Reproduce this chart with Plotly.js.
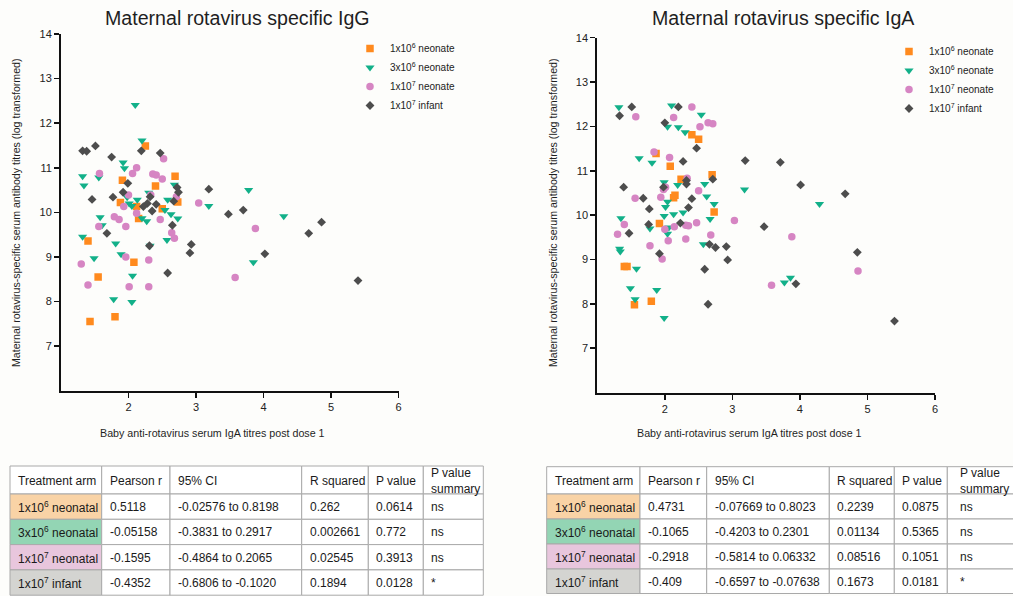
<!DOCTYPE html>
<html><head><meta charset="utf-8">
<script src="https://cdn.plot.ly/plotly-3.0.1.min.js"></script>
<style>html,body{margin:0;padding:0;background:#fdfdfb;}#chart{width:1013px;height:596px;}</style>
</head><body><div id="chart"></div>
<script>
// ---------- data ----------
const groupNames = ["1x10<sup>6</sup> neonate","3x10<sup>6</sup> neonate","1x10<sup>7</sup> neonate","1x10<sup>7</sup> infant"];
const groupColors = ["#FF8A1E","#12B089","#D685C3","#4D4D4D"];
const groupSymbols = ["square","triangle-down","circle","diamond"];

// IgG panel
const iggN6x = [2.25,1.91,2.69,2.40,1.88,2.12,2.50,2.73,2.15,1.40,2.08,1.55,1.80,1.43];
const iggN6y = [11.49,10.72,10.81,10.59,10.22,10.13,10.08,10.23,9.86,9.36,8.88,8.55,7.66,7.55];
const iggN3x = [2.10,2.20,1.92,1.94,1.32,1.56,1.34,2.68,2.30,1.98,2.13,2.58,2.01,2.05,3.19,2.54,2.63,2.73,1.58,2.20,2.27,1.61,1.32,2.57,1.81,1.89,1.49,2.32,2.06,1.78,2.05,3.78,4.30,3.85];
const iggN3y = [12.41,11.61,11.12,10.99,10.81,10.78,10.60,10.62,10.44,10.34,10.28,10.28,10.20,10.14,10.14,10.05,9.96,9.86,9.89,9.87,9.80,9.71,9.45,9.38,9.30,9.06,8.97,9.25,8.58,8.05,7.99,10.50,9.91,8.88];
const iggN7x = [2.52,2.12,1.57,2.06,2.36,2.41,2.50,2.00,2.33,1.93,2.71,3.04,2.12,1.79,1.86,1.56,1.96,2.47,2.64,2.68,1.96,2.30,1.30,1.40,2.01,2.30,3.88,3.58];
const iggN7y = [11.20,11.00,10.87,10.87,10.86,10.84,10.75,10.39,10.39,10.13,10.35,10.21,9.98,9.90,9.84,9.68,9.68,9.84,9.54,9.42,9.00,8.93,8.84,8.37,8.33,8.33,9.64,8.54];
const iggI7x = [1.32,1.38,1.51,2.19,2.47,1.75,1.99,1.92,2.72,2.74,3.19,2.32,1.46,1.77,2.67,2.28,2.41,2.22,2.35,2.65,1.68,2.31,2.93,2.91,2.58,3.48,3.70,4.86,4.67,4.02,5.40];
const iggI7y = [11.38,11.37,11.49,11.38,11.33,11.24,10.65,10.45,10.56,10.45,10.52,10.35,10.29,10.34,10.25,10.20,10.18,10.13,10.03,9.71,9.53,9.25,9.28,9.09,8.64,9.96,10.05,9.78,9.53,9.07,8.47];

// IgA panel
const igaN6x = [2.40,2.50,1.87,2.08,2.70,2.24,2.15,2.13,2.73,1.92,1.40,1.44,1.80,1.55];
const igaN6y = [11.81,11.71,11.39,11.10,10.91,10.81,10.45,10.39,10.07,9.81,8.84,8.84,8.06,7.98];
const igaN3x = [1.32,2.10,2.54,2.04,2.20,2.30,1.62,1.81,1.99,2.19,2.59,2.62,2.73,2.04,2.01,1.99,2.13,2.27,1.35,1.78,2.06,2.04,2.67,2.57,1.33,1.34,1.58,1.49,1.88,1.56,1.99,3.18,4.29,3.77,3.86];
const igaN3y = [12.43,12.47,12.26,11.99,11.98,11.87,11.28,11.18,10.74,10.68,10.70,10.42,10.25,10.30,10.18,9.98,10.02,10.06,9.93,9.70,9.72,9.58,9.91,9.34,9.24,9.18,8.79,8.35,8.31,8.10,7.68,10.58,10.25,8.48,8.59];
const igaN7x = [2.40,1.57,2.13,2.52,2.64,2.71,1.84,2.07,2.33,1.98,2.01,2.50,1.56,1.94,1.40,1.30,2.00,2.14,2.31,2.35,2.47,2.05,2.31,2.68,1.78,1.96,3.03,3.88,3.58,4.86];
const igaN7y = [12.44,12.22,12.20,11.99,12.08,12.06,11.42,11.30,10.83,10.58,10.63,10.55,10.38,10.40,9.79,9.57,9.68,9.74,9.77,9.76,9.83,9.42,9.46,9.55,9.31,9.01,9.88,9.51,8.42,8.74];
const igaI7x = [1.51,1.33,2.20,2.00,2.47,2.27,3.19,2.71,2.32,2.32,1.98,1.39,1.68,2.40,1.77,2.35,1.76,2.23,1.47,2.66,2.75,2.91,2.93,1.92,2.59,2.64,3.71,4.01,4.67,3.47,4.85,3.94,5.40];
const igaI7y = [12.44,12.24,12.44,12.08,11.51,11.21,11.23,10.81,10.78,10.70,10.63,10.63,10.38,10.37,10.14,10.17,9.79,9.82,9.59,9.34,9.27,9.29,8.99,9.13,8.78,7.99,11.19,10.68,10.48,9.74,9.16,8.45,7.61];

// axis ticks
const xTicks = [2,3,4,5,6];
const yTicks = [7,8,9,10,11,12,13,14];

// tables
const tblHeader = ["Treatment arm","Pearson r","95% CI","R squared","P value","P value<br>summary"];
const tblArms = ["1x10<sup>6</sup> neonatal","3x10<sup>6</sup> neonatal","1x10<sup>7</sup> neonatal","1x10<sup>7</sup> infant"];
const tblArmColors = ["#F9D3A6","#93D5B4","#E8C6DD","#D4D4D1"];
const iggPearson = ["0.5118","-0.05158","-0.1595","-0.4352"];
const iggCI = ["-0.02576 to 0.8198","-0.3831 to 0.2917","-0.4864 to 0.2065","-0.6806 to -0.1020"];
const iggR2 = ["0.262","0.002661","0.02545","0.1894"];
const iggP = ["0.0614","0.772","0.3913","0.0128"];
const iggSummary = ["ns","ns","ns","*"];
const igaPearson = ["0.4731","-0.1065","-0.2918","-0.409"];
const igaCI = ["-0.07669 to 0.8023","-0.4203 to 0.2301","-0.5814 to 0.06332","-0.6597 to -0.07638"];
const igaR2 = ["0.2239","0.01134","0.08516","0.1673"];
const igaP = ["0.0875","0.5365","0.1051","0.0181"];
const igaSummary = ["ns","ns","ns","*"];

// ---------- build ----------
const W = 1013, H = 596;
const FONT = "Liberation Sans, Arial, Helvetica, sans-serif";
const px = v => v / W, py = v => 1 - v / H;
const sizes = [7.5, 8, 7.5, 6.8];

const iggSets = [[iggN6x,iggN6y],[iggN3x,iggN3y],[iggN7x,iggN7y],[iggI7x,iggI7y]];
const igaSets = [[igaN6x,igaN6y],[igaN3x,igaN3y],[igaN7x,igaN7y],[igaI7x,igaI7y]];
const traces = [];
iggSets.forEach((s,i) => traces.push({
  type:"scatter", mode:"markers", x:s[0], y:s[1], xaxis:"x", yaxis:"y",
  name: groupNames[i], legend:"legend",
  marker:{symbol:groupSymbols[i], color:groupColors[i], size:sizes[i], line:{width:0}}
}));
igaSets.forEach((s,i) => traces.push({
  type:"scatter", mode:"markers", x:s[0], y:s[1], xaxis:"x2", yaxis:"y2",
  name: groupNames[i], legend:"legend2",
  marker:{symbol:groupSymbols[i], color:groupColors[i], size:sizes[i], line:{width:0}}
}));

const ann = (text, x, y, size, extra) => Object.assign({text, x:px(x), y:py(y), xref:"paper", yref:"paper",
  showarrow:false, xanchor:"center", yanchor:"middle", font:{family:FONT, size, color:"#1f1f1f"}}, extra || {});

const shapes = [];
const annotations = [
  ann("Maternal rotavirus specific IgG", 237, 18, 19.6),
  ann("Maternal rotavirus specific IgA", 783, 18, 19.6),
  ann("Baby anti-rotavirus serum IgA titres post dose 1", 212.5, 432.5, 10.7),
  ann("Baby anti-rotavirus serum IgA titres post dose 1", 749.5, 432.5, 10.7),
  ann("Maternal rotavirus-specific serum antibody titres (log transformed)", 16, 213, 10.6, {textangle:-90}),
  ann("Maternal rotavirus-specific serum antibody titres (log transformed)", 553, 213, 10.6, {textangle:-90})
];

// table built from the arrays above as layout shapes + text
function addTable(colEdges, rowEdges, cols, pads) {
  const nRows = rowEdges.length - 1;
  for (let c = 0; c < cols.length; c++) {
    for (let r = 0; r < nRows; r++) {
      const fill = (r > 0 && c === 0) ? tblArmColors[r-1] : "#FFFFFF";
      shapes.push({type:"rect", xref:"paper", yref:"paper",
        x0:px(colEdges[c]), x1:px(colEdges[c+1]), y0:py(rowEdges[r+1]), y1:py(rowEdges[r]),
        fillcolor:fill, line:{color:"#A9A9A9", width:1}, layer:"below"});
      const text = r === 0 ? tblHeader[c] : cols[c][r-1];
      annotations.push(ann(text, colEdges[c] + pads[c], (rowEdges[r] + rowEdges[r+1]) / 2 + 0.5, 12,
        {xanchor:"left", align:"left", font:{family:FONT, size:12, color:"#1a1a1a"}}));
    }
  }
}
addTable([10,101.7,170,301.7,368.3,423.3,483.3], [466,494,519.3,544.6,569.9,595.2],
  [tblArms, iggPearson, iggCI, iggR2, iggP, iggSummary], [6,6,6,6,6,6]);
addTable([546.7,640,706.7,829.3,894.3,947.3,1025], [466.7,494,519,544,569,593.5],
  [tblArms, igaPearson, igaCI, igaR2, igaP, igaSummary], [6,6,6,6,6,11]);

const axCommon = {showgrid:false, zeroline:false, showline:true, linecolor:"#111", linewidth:2,
  ticks:"outside", ticklen:5, tickwidth:1.5, tickcolor:"#111",
  tickfont:{family:FONT, size:11, color:"#222"}, fixedrange:true};

const layout = {
  width:W, height:H, margin:{l:0,r:0,t:0,b:0},
  paper_bgcolor:"#fdfdfb", plot_bgcolor:"#fdfdfb",
  font:{family:FONT, color:"#222"},
  xaxis: Object.assign({}, axCommon, {domain:[px(61), px(398.5)], range:[1,6], tickvals:xTicks, anchor:"y"}),
  yaxis: Object.assign({}, axCommon, {domain:[py(390.7), py(34)], range:[6,14], tickvals:yTicks, anchor:"x"}),
  xaxis2: Object.assign({}, axCommon, {domain:[px(597.3), px(935)], range:[1,6], tickvals:xTicks, anchor:"y2"}),
  yaxis2: Object.assign({}, axCommon, {domain:[py(392.5), py(37.7)], range:[6,14], tickvals:yTicks, anchor:"x2"}),
  legend:{x:px(350), xanchor:"left", y:py(34), yanchor:"top", bgcolor:"rgba(0,0,0,0)",
    font:{family:FONT, size:10, color:"#222"}, traceorder:"normal"},
  legend2:{x:px(889), xanchor:"left", y:py(37), yanchor:"top", bgcolor:"rgba(0,0,0,0)",
    font:{family:FONT, size:10, color:"#222"}, traceorder:"normal"},
  shapes, annotations
};

Plotly.newPlot("chart", traces, layout, {staticPlot:true, displayModeBar:false});
</script>
</body></html>
